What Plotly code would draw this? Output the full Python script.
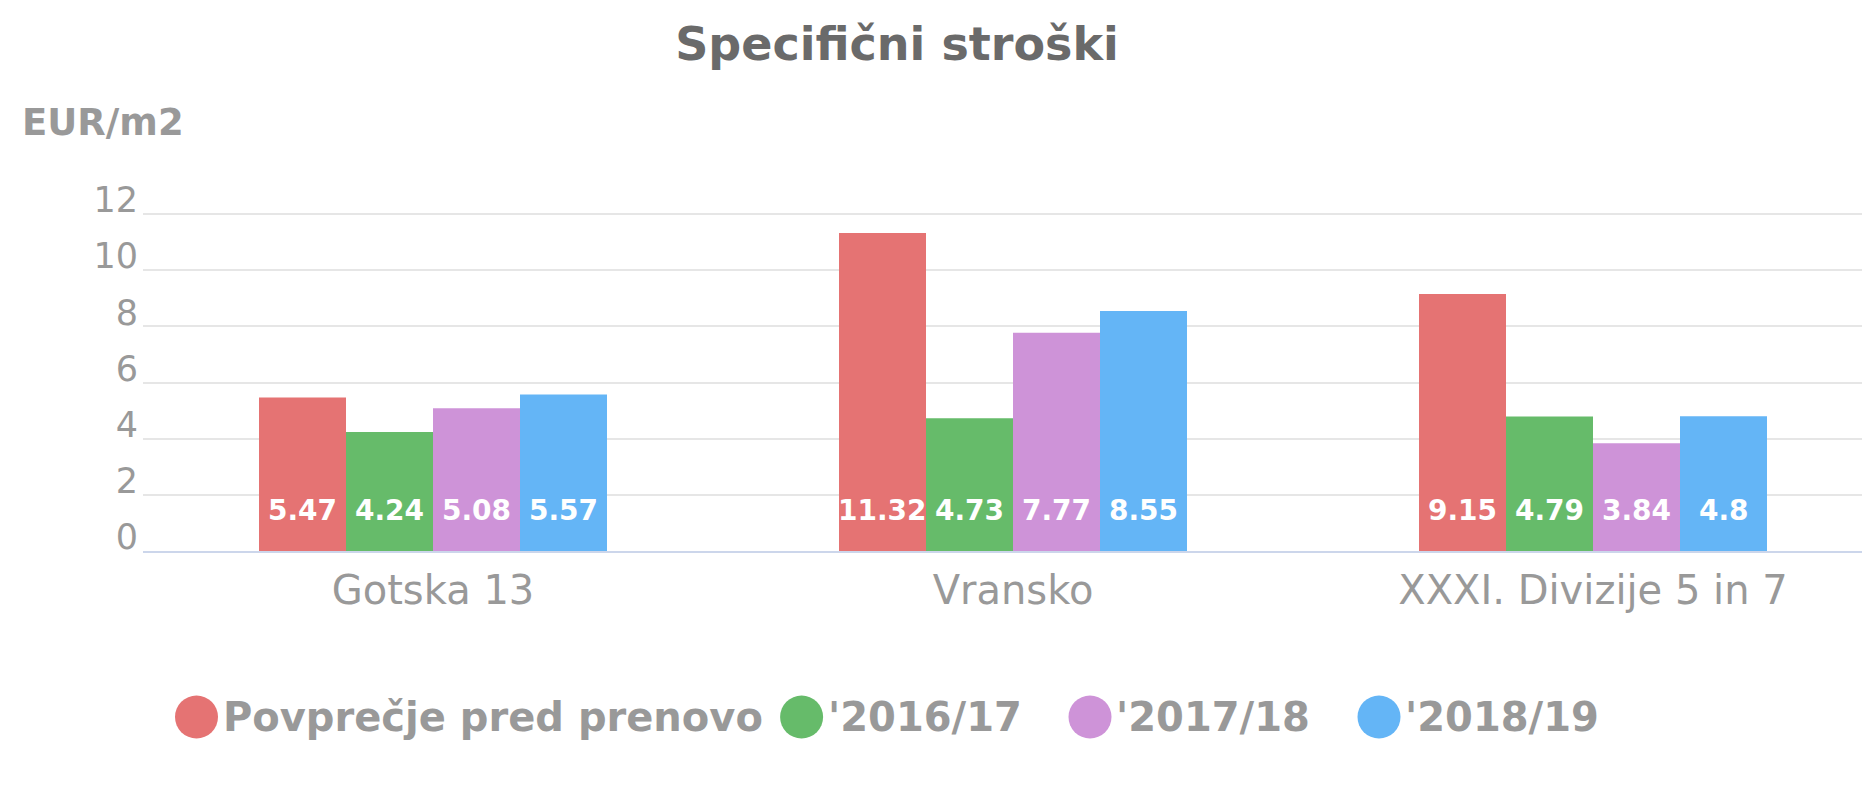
import plotly.graph_objects as go

categories = ["Gotska 13", "Vransko", "XXXI. Divizije 5 in 7"]
series_names = ["Povprečje pred prenovo", "'2016/17", "'2017/18", "'2018/19"]
povprecje = [5.47, 11.32, 9.15]
v2016_17 = [4.24, 4.73, 4.79]
v2017_18 = [5.08, 7.77, 3.84]
v2018_19 = [5.57, 8.55, 4.8]
y_ticks = [0, 2, 4, 6, 8, 10, 12]

series_values = [povprecje, v2016_17, v2017_18, v2018_19]
colors = ["#E57373", "#66BB6A", "#CE93D8", "#64B5F6"]

W, H = 1862, 797
ML, MR, MT, MB = 143, 0, 211, 246
PW = W - ML - MR
PH = H - MT - MB
cat_px = 580.0
bar_px = 0.15 * cat_px
y_top = 12 * (H - MB - MT) / (H - MB - 214)


def px_x(px):
    return (px - ML) / PW


def px_y(py):
    return (H - MB - py) / PH


FONT = "DejaVu Sans"
fig = go.Figure()
xs = list(range(len(categories)))
for name, vals, col in zip(series_names, series_values, colors):
    fig.add_trace(go.Bar(x=xs, y=vals, name=name, marker=dict(color=col, line=dict(width=0)),
                         showlegend=False, hoverinfo="y+name"))

annotations = []
# data labels near the bottom of each bar
for i, vals in enumerate(series_values):
    for j, v in enumerate(vals):
        annotations.append(dict(x=xs[j], y=0, xref="x", yref="y", text="<b>%s</b>" % (f"{v:g}"),
                                showarrow=False, xshift=(i - 1.5) * bar_px, yshift=41,
                                xanchor="center", yanchor="middle",
                                font=dict(family=FONT, size=28, color="white")))

# y axis title
annotations.append(dict(x=px_x(20), y=px_y(122), xref="paper", yref="paper", text="<b>EUR/m2</b>",
                        showarrow=False, xanchor="left", yanchor="middle",
                        font=dict(family=FONT, size=37, color="#999999")))

# custom legend
legend_circle_cx = [196.5, 801.6, 1090, 1379]
legend_text_x = [221, 826, 1114, 1403]
legend_cy = 717
r = 21.5
shapes = []
for name, col, cx, tx in zip(series_names, colors, legend_circle_cx, legend_text_x):
    shapes.append(dict(type="circle", xref="paper", yref="paper",
                       x0=px_x(cx - r), x1=px_x(cx + r), y0=px_y(legend_cy + r), y1=px_y(legend_cy - r),
                       fillcolor=col, line=dict(width=0)))
    annotations.append(dict(x=px_x(tx), y=px_y(legend_cy), xref="paper", yref="paper",
                            text="<b>%s</b>" % name, showarrow=False, xanchor="left", yanchor="middle",
                            font=dict(family=FONT, size=40, color="#999999")))

fig.update_layout(
    width=W, height=H,
    margin=dict(l=ML, r=MR, t=MT, b=MB, pad=0),
    paper_bgcolor="white", plot_bgcolor="white",
    barmode="group", bargap=0.4, bargroupgap=0,
    title=dict(text="<b>Specifični stroški</b>", x=897 / W, y=1 - 44 / H, xanchor="center", yanchor="middle",
               font=dict(family=FONT, size=46, color="#6a6a6a")),
    xaxis=dict(tickmode="array", tickvals=xs, ticktext=categories, range=[-0.5, -0.5 + PW / cat_px],
               showgrid=False, zeroline=False, showline=True, linecolor="#ccd6eb", linewidth=2,
               ticks="", ticklabelstandoff=3,
               tickfont=dict(family=FONT, size=40, color="#999999")),
    yaxis=dict(range=[0, y_top], tickvals=y_ticks, showgrid=True, gridcolor="#e6e6e6", gridwidth=2,
               zeroline=False, showline=False, ticks="", ticklabelshift=-14, ticklabelstandoff=4,
               tickfont=dict(family=FONT, size=35, color="#999999")),
    annotations=annotations,
    shapes=shapes,
    showlegend=False,
)

fig.write_html("out.html", config={"displayModeBar": False},
               post_script="document.body.style.margin='0px';")
